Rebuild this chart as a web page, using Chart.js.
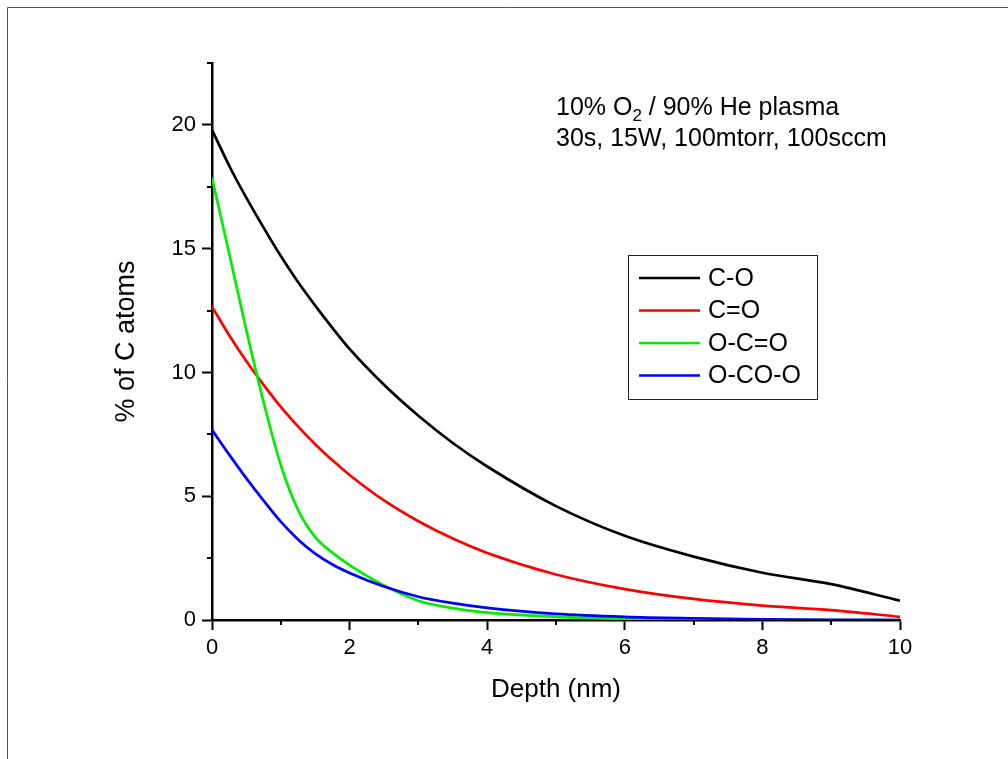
<!DOCTYPE html>
<html>
<head>
<meta charset="utf-8">
<script src="https://cdn.jsdelivr.net/npm/chart.js@4.4.0/dist/chart.umd.min.js"></script>
<style>
    html, body { margin: 0; padding: 0; background: #fff; }
    #wrap { position: relative; width: 1008px; height: 759px; }
</style>
</head>
<body>
<div id="wrap"><canvas id="js-depth-chart" width="1008" height="759"></canvas></div>
<script>
// Depth profile values
const depth = [0, 0.25, 0.5, 0.75, 1, 1.25, 1.5, 1.75, 2, 2.5, 3, 3.5, 4, 5, 6, 7, 8, 9, 10];
const cO    = [19.8, 18.35, 17.05, 15.85, 14.7, 13.65, 12.7, 11.8, 10.95, 9.5, 8.25, 7.15, 6.2, 4.6, 3.4, 2.56, 1.91, 1.45, 0.78];
const cdO   = [12.66, 11.5, 10.45, 9.5, 8.61, 7.82, 7.1, 6.45, 5.86, 4.83, 3.99, 3.29, 2.71, 1.84, 1.25, 0.85, 0.58, 0.40, 0.13];
const ocdO  = [17.86, 14.8, 11.7, 8.8, 6.26, 4.45, 3.35, 2.72, 2.22, 1.4, 0.78, 0.48, 0.3, 0.13, 0.05, 0.02, 0.01, 0, 0];
const ocoO  = [7.68, 6.68, 5.72, 4.82, 3.97, 3.25, 2.68, 2.24, 1.9, 1.35, 0.94, 0.68, 0.49, 0.25, 0.13, 0.07, 0.03, 0.01, 0];

const seriesLabels = ["C-O", "C=O", "O-C=O", "O-CO-O"];
const seriesColors = ["#000000", "#ff0000", "#00ee00", "#0000ff"];

// Tick labels
const xTicks = [0, 2, 4, 6, 8, 10];
const yTicks = [0, 5, 10, 15, 20];
const yMax = 22.5;

const FONT = "'Liberation Sans', Arial, sans-serif";

function toPoints(values) {
    return depth.map((d, i) => ({ x: d, y: values[i] }));
}

// Frame round the figure, minor ticks, legend box and the note
const extras = {
    id: "extras",
    beforeDraw(chart) {
        const ctx = chart.ctx;
        ctx.save();
        ctx.lineWidth = 1;
        ctx.strokeStyle = "#555";
        ctx.beginPath();
        ctx.moveTo(7.5, 7.5);
        ctx.lineTo(chart.width, 7.5);
        ctx.moveTo(7.5, 7.5);
        ctx.lineTo(7.5, chart.height);
        ctx.stroke();
        ctx.restore();
    },
    afterDraw(chart) {
        const { ctx, chartArea, scales } = chart;
        const x = scales.x, y = scales.y;
        ctx.save();

        // minor ticks
        ctx.strokeStyle = "#000";
        ctx.lineWidth = 2;
        ctx.beginPath();
        for (let i = 0; i < xTicks.length - 1; i++) {
            const px = Math.round(x.getPixelForValue((xTicks[i] + xTicks[i + 1]) / 2));
            ctx.moveTo(px, chartArea.bottom);
            ctx.lineTo(px, chartArea.bottom + 5);
        }
        const step = yTicks[1] - yTicks[0];
        yTicks.forEach((v) => {
            const m = v + step / 2;
            if (m <= yMax) {
                const py = Math.round(y.getPixelForValue(m));
                ctx.moveTo(chartArea.left, py);
                ctx.lineTo(chartArea.left - 5, py);
            }
        });
        ctx.stroke();

        // legend
        const bx = chartArea.left + 416, by = chartArea.top + 192;
        ctx.lineWidth = 1;
        ctx.strokeStyle = "#222";
        ctx.strokeRect(bx + 0.5, by + 0.5, 189, 144);
        ctx.font = "25px " + FONT;
        ctx.textBaseline = "middle";
        ctx.fillStyle = "#000";
        chart.data.datasets.forEach((ds, i) => {
            const ry = by + 23 + i * 32.5;
            ctx.strokeStyle = ds.borderColor;
            ctx.lineWidth = 2.5;
            ctx.beginPath();
            ctx.moveTo(bx + 11, ry);
            ctx.lineTo(bx + 72, ry);
            ctx.stroke();
            ctx.fillText(ds.label, bx + 80, ry + 1);
        });

        // note
        const nx = chartArea.left + 344;
        const b1 = chartArea.top + 52, b2 = chartArea.top + 83;
        ctx.textBaseline = "alphabetic";
        ctx.font = "25px " + FONT;
        let cx = nx;
        ctx.fillText("10% O", cx, b1);
        cx += ctx.measureText("10% O").width;
        ctx.font = "17px " + FONT;
        ctx.fillText("2", cx, b1 + 6);
        cx += ctx.measureText("2").width;
        ctx.font = "25px " + FONT;
        ctx.fillText(" / 90% He plasma", cx, b1);
        ctx.fillText("30s, 15W, 100mtorr, 100sccm", nx, b2);

        ctx.restore();
    },
};

const chartData = {
    datasets: [cO, cdO, ocdO, ocoO].map((values, i) => ({
        label: seriesLabels[i],
        data: toPoints(values),
        borderColor: seriesColors[i],
        backgroundColor: seriesColors[i],
        borderWidth: 2.7,
        pointRadius: 0,
        cubicInterpolationMode: "monotone",
        order: 3 - i,
    })),
};

const axisBase = {
    grid: {
        display: true,
        drawOnChartArea: false,
        drawTicks: true,
        tickLength: 10,
        tickWidth: 2,
        tickColor: "#000",
    },
    border: { display: true, color: "#000", width: 2.5 },
};

const chartOptions = {
    responsive: false,
    devicePixelRatio: 1,
    animation: false,
    layout: { padding: { top: 63, right: 108, bottom: 0, left: 0 } },
    scales: {
        x: {
            ...axisBase,
            type: "linear",
            min: 0,
            max: 10,
            afterBuildTicks: (s) => { s.ticks = xTicks.map((v) => ({ value: v })); },
            afterFit: (s) => { s.height = 139; },
            ticks: {
                color: "#000",
                font: { family: FONT, size: 22 },
                padding: 5,
                maxRotation: 0,
            },
            title: {
                display: true,
                text: "Depth (nm)",
                color: "#000",
                font: { family: FONT, size: 26 },
                padding: { top: 0, bottom: 54 },
            },
        },
        y: {
            ...axisBase,
            type: "linear",
            min: 0,
            max: yMax,
            afterBuildTicks: (s) => { s.ticks = yTicks.map((v) => ({ value: v })); },
            afterFit: (s) => { s.width = 212; },
            ticks: {
                color: "#000",
                font: { family: FONT, size: 22 },
                padding: 6,
            },
            title: {
                display: true,
                text: "% of C atoms",
                color: "#000",
                font: { family: FONT, size: 27 },
                padding: { top: 110, bottom: 0 },
            },
        },
    },
    plugins: {
        legend: { display: false },
        tooltip: { enabled: false },
    },
};

new Chart(document.getElementById("js-depth-chart"), {
    type: "line",
    data: chartData,
    options: chartOptions,
    plugins: [extras],
});
</script>
</body>
</html>
